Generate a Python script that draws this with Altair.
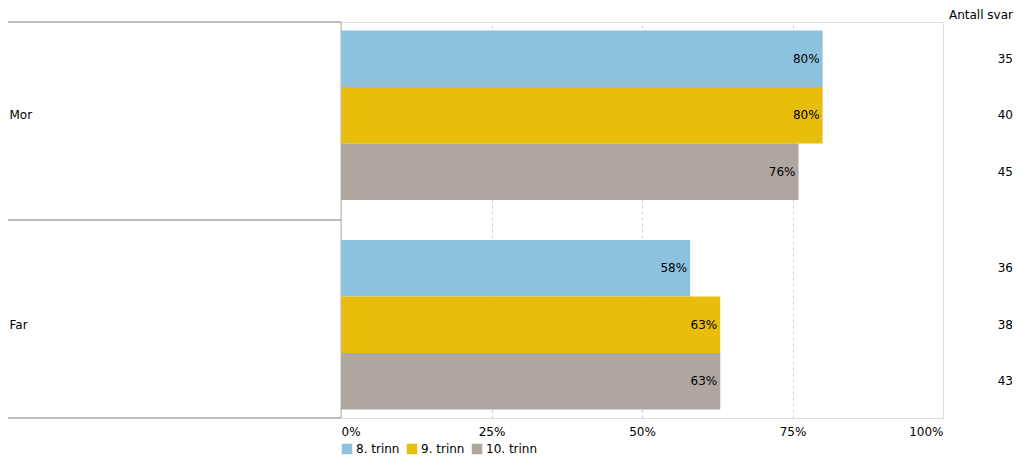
import altair as alt
import pandas as pd

groups = ["Mor", "Far"]
trinn = ["8. trinn", "9. trinn", "10. trinn"]
mor_values = [80, 80, 76]
far_values = [58, 63, 63]
mor_counts = [35, 40, 45]
far_counts = [36, 38, 43]
colors = ["#8dc2de", "#e8bd0b", "#aea69f"]
x_ticks = [0, 25, 50, 75, 100]

rows = []
for g, vals, cnts in [("Mor", mor_values, mor_counts), ("Far", far_values, far_counts)]:
    for t, v, c in zip(trinn, vals, cnts):
        rows.append({"group": g, "trinn": t, "value": v, "count": c, "label": f"{v}%"})
df = pd.DataFrame(rows)

FONT = "DejaVu Sans"
W, H = 602, 396
LEFT = 333
RIGHT = 73

y_enc = alt.Y(
    "group:N", sort=groups,
    scale=alt.Scale(paddingInner=0.19, paddingOuter=0.04),
    axis=alt.Axis(title=None, domain=False, ticks=False, labelAlign="left",
                  labelPadding=LEFT - 1, labelFontSize=12, labelColor="black",
                  labelFont=FONT),
)
yoff_enc = alt.YOffset("trinn:N", sort=trinn, scale=alt.Scale(paddingInner=0, paddingOuter=0))
x_enc = alt.X(
    "value:Q", scale=alt.Scale(domain=[0, 100], nice=False),
    axis=alt.Axis(values=x_ticks, labelExpr="datum.value + '%'", title=None, grid=True,
                  gridDash=[3, 3], gridColor="#cfcfcf",
                  gridOpacity={"condition": {"test": "datum.value == 0 || datum.value == 100",
                                             "value": 0}, "value": 1},
                  domain=False, ticks=False,
                  labelFlush=True, labelPadding=8, labelFontSize=12, labelColor="black",
                  labelFont=FONT),
)

base = alt.Chart(df)

bars = base.mark_bar().encode(
    y=y_enc, yOffset=yoff_enc, x=x_enc,
    color=alt.Color("trinn:N", sort=trinn, scale=alt.Scale(domain=trinn, range=colors),
                    legend=alt.Legend(title=None, orient="none", legendX=0, legendY=421,
                                      direction="horizontal", symbolType="square",
                                      symbolSize=110, symbolStrokeWidth=0,
                                      labelFontSize=12, labelColor="black", labelFont=FONT,
                                      columnPadding=6, labelOffset=3)),
)

labels = base.mark_text(align="right", baseline="middle", dx=-3, fontSize=12,
                        color="black", font=FONT).encode(
    y=y_enc, yOffset=yoff_enc, x=alt.X("value:Q"), text="label:N"
)

counts = base.mark_text(align="right", baseline="middle", fontSize=12,
                        color="black", font=FONT).encode(
    y=y_enc, yOffset=yoff_enc, x=alt.value(W + RIGHT - 3), text="count:N"
)

header = alt.Chart(pd.DataFrame({"t": ["Antall svar"]})).mark_text(
    align="right", baseline="middle", fontSize=12, color="black", font=FONT
).encode(text="t:N", x=alt.value(W + RIGHT - 3), y=alt.value(-7))

sep_layers = []
for ypix in [0, H / 2, H]:
    sep_layers.append(
        alt.Chart(pd.DataFrame({"a": [0]})).mark_rule(color="#7a7a7a", strokeWidth=1).encode(
            x=alt.value(-LEFT), x2=alt.value(0), y=alt.value(ypix)
        )
    )

left_border = alt.Chart(pd.DataFrame({"a": [0]})).mark_rule(color="#b5b5b5", strokeWidth=1).encode(
    x=alt.value(0), y=alt.value(0), y2=alt.value(H)
)

chart = alt.layer(bars, labels, counts, header, left_border, *sep_layers).properties(
    width=W, height=H,
    autosize=alt.AutoSizeParams(type="none"),
    padding={"left": LEFT, "top": 14, "right": RIGHT, "bottom": 38},
).configure_view(stroke="#bdbdbd", strokeWidth=1).configure(font=FONT)

chart.save("out.html", embed_options={"renderer": "svg", "actions": False})
